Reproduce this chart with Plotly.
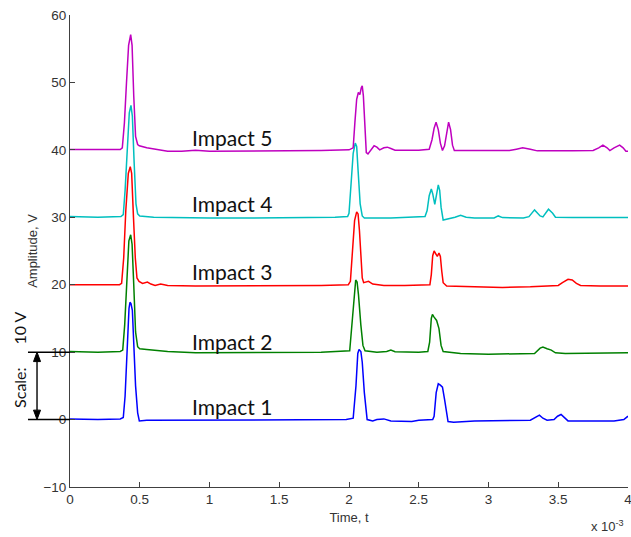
import numpy as np
import plotly.graph_objects as go

# Impact response traces: time in ms, amplitude in V (each impact offset by 10 V)
t1 = [0, 0.2, 0.36, 0.382, 0.395, 0.41, 0.423, 0.43, 0.437, 0.447, 0.458, 0.47, 0.485, 0.497,
      0.55, 0.8, 1.0, 1.3, 1.6, 1.8, 1.98, 2.03, 2.05, 2.063, 2.072, 2.085, 2.095, 2.11, 2.13,
      2.17, 2.2, 2.25, 2.3, 2.45, 2.5, 2.6, 2.61, 2.625, 2.64, 2.655, 2.67, 2.685, 2.70, 2.71,
      2.75, 2.9, 3.3, 3.34, 3.365, 3.39, 3.42, 3.47, 3.495, 3.52, 3.545, 3.57, 3.7, 3.9, 3.97, 4.0]
a1 = [0.1, 0.0, 0.1, 0.3, 3.5, 11, 16.5, 17.4, 17.2, 16.2, 11, 5, 1, -0.2,
      -0.1, -0.1, 0.0, -0.1, 0.0, -0.1, 0.0, 0.2, 5, 9.8, 10.4, 10.1, 8.5, 4, 0.0,
      -0.2, 0.0, 0.1, -0.2, -0.3, -0.1, 0.0, 0.5, 4, 5.3, 5.1, 4.8, 3, 0.5, -0.3,
      -0.4, -0.2, -0.1, 0.3, 0.65, 0.2, -0.1, 0.0, 0.5, 0.75, 0.2, -0.2, -0.2, -0.2, 0.0, 0.5]

t2 = [0, 0.2, 0.36, 0.378, 0.392, 0.408, 0.422, 0.435, 0.445, 0.457, 0.47, 0.485, 0.5, 0.55,
      0.6, 0.7, 0.9, 1.2, 1.5, 1.8, 2.005, 2.02, 2.035, 2.048, 2.058, 2.068, 2.085, 2.1, 2.115,
      2.2, 2.27, 2.3, 2.33, 2.4, 2.5, 2.565, 2.578, 2.59, 2.598, 2.61, 2.628, 2.645, 2.66, 2.675,
      2.8, 3.0, 3.2, 3.33, 3.37, 3.39, 3.42, 3.45, 3.48, 3.55, 3.7, 3.85, 4.0]
a2 = [10.1, 10.0, 10.1, 10.3, 14, 21, 26.5, 27.4, 26, 20, 13, 10.8, 10.5, 10.4,
      10.3, 10.1, 9.9, 9.9, 9.9, 10.0, 10.2, 14, 18.5, 20.7, 20.4, 18.5, 14, 11, 10.2,
      10.0, 10.1, 10.3, 10.05, 10.0, 10.0, 10.1, 11.5, 15, 15.6, 15.2, 14.7, 13.5, 11, 10.1,
      9.8, 9.7, 9.7, 9.8, 10.6, 10.75, 10.5, 10.3, 9.9, 9.8, 9.85, 9.9, 9.9]

t3 = [0, 0.2, 0.355, 0.37, 0.385, 0.40, 0.418, 0.432, 0.442, 0.455, 0.468, 0.48, 0.495, 0.52,
      0.555, 0.58, 0.61, 0.65, 0.7, 0.9, 1.2, 1.5, 1.8, 1.995, 2.01, 2.025, 2.04, 2.055, 2.065,
      2.075, 2.085, 2.095, 2.105, 2.14, 2.17, 2.25, 2.4, 2.58, 2.59, 2.6, 2.61, 2.62, 2.633,
      2.645, 2.655, 2.665, 2.675, 2.7, 2.9, 3.1, 3.3, 3.45, 3.5, 3.53, 3.57, 3.6, 3.63, 3.66,
      3.8, 4.0]
a3 = [20.0, 20.0, 20.0, 20.2, 24, 31, 36.5, 37.5, 36.5, 30, 24, 21, 20.5, 20.2,
      20.4, 20.1, 19.9, 20.1, 19.9, 19.8, 19.8, 19.8, 19.9, 20.0, 20.5, 25, 29.5, 30.8, 30.5,
      28, 24, 21, 20.3, 20.5, 20.1, 19.9, 19.9, 20.0, 21.5, 24.3, 25.0, 24.6, 24.2,
      24.7, 24.2, 22, 20.3, 19.8, 19.7, 19.6, 19.7, 19.8, 19.9, 20.3, 20.8, 20.7, 20.2, 19.9,
      19.8, 19.8]

t4 = [0, 0.2, 0.365, 0.382, 0.395, 0.41, 0.425, 0.437, 0.447, 0.46, 0.473, 0.485, 0.5, 0.6,
      0.8, 1.0, 1.3, 1.6, 1.9, 1.99, 2.0, 2.015, 2.03, 2.045, 2.055, 2.065, 2.08, 2.095, 2.11,
      2.3, 2.5, 2.545, 2.56, 2.575, 2.59, 2.6, 2.615, 2.63, 2.64, 2.65, 2.66, 2.675, 2.7, 2.76,
      2.8, 2.84, 2.9, 3.04, 3.07, 3.1, 3.25, 3.29, 3.33, 3.37, 3.39, 3.43, 3.46, 3.48, 3.6,
      3.8, 4.0]
a4 = [30.1, 30.0, 30.1, 30.4, 34, 40, 45.5, 46.6, 45, 38, 32, 30.5, 30.2, 30.0,
      29.9, 29.9, 29.9, 29.9, 30.0, 30.1, 30.6, 35, 39.5, 41, 40.5, 37, 32, 30.2, 29.9,
      29.9, 30.0, 30.1, 31, 33.2, 34.2, 33.5, 31.9, 33.8, 34.8, 34, 31.5, 29.6, 29.7, 30.0,
      30.3, 30.0, 29.9, 29.9, 30.2, 29.95, 29.9, 30.1, 31.1, 30.2, 30.05, 31.2, 30.6, 30.0, 29.95,
      29.95, 29.95]

t5 = [0, 0.2, 0.36, 0.375, 0.39, 0.405, 0.42, 0.435, 0.445, 0.457, 0.47, 0.485, 0.497, 0.55,
      0.65, 0.7, 0.8, 0.9, 1.0, 1.3, 1.6, 1.8, 2.0, 2.03, 2.042, 2.055, 2.067, 2.078, 2.088,
      2.095, 2.103, 2.113, 2.124, 2.136, 2.155, 2.18, 2.2, 2.22, 2.25, 2.275, 2.3, 2.33, 2.5,
      2.575, 2.595, 2.61, 2.624, 2.64, 2.655, 2.67, 2.685, 2.7, 2.714, 2.728, 2.742, 2.755, 3.0,
      3.15, 3.2, 3.245, 3.3, 3.35, 3.6, 3.75, 3.79, 3.82, 3.85, 3.87, 3.9, 3.94, 3.965, 3.985, 4.0]
a5 = [40.05, 40.05, 40.05, 40.3, 44, 50, 55.5, 57.1, 55.5, 48, 42, 40.8, 40.6, 40.3,
      40.0, 39.8, 39.8, 39.95, 39.8, 39.8, 39.85, 39.9, 40.0, 40.3, 44, 47.5, 48.5, 48.2, 49.2,
      49.5, 48, 43, 39.6, 39.4, 40.0, 40.6, 40.4, 40.0, 40.3, 40.4, 40.2, 39.95, 39.95,
      40.1, 41.5, 43.2, 44.1, 43, 41, 39.9, 40.6, 42.8, 44.1, 43, 40.7, 39.9, 39.9,
      39.9, 40.1, 40.3, 40.1, 39.85, 39.85, 39.9, 40.3, 40.7, 40.3, 39.9, 40.3, 40.7, 40.3, 39.8, 39.8]

series = [
    ("Impact 1", t1, a1, "#0000ff"),
    ("Impact 2", t2, a2, "#008000"),
    ("Impact 3", t3, a3, "#ff0000"),
    ("Impact 4", t4, a4, "#00bfbf"),
    ("Impact 5", t5, a5, "#bf00bf"),
]

# Label positions (ms, V) for each impact trace
label_t = [1.16, 1.16, 1.16, 1.16, 1.16]
label_a = [1.9, 11.6, 21.9, 32.1, 41.8]

x_ticks_ms = [0, 0.5, 1, 1.5, 2, 2.5, 3, 3.5, 4]
x_tick_text = ["0", "0.5", "1", "1.5", "2", "2.5", "3", "3.5", "4"]
y_ticks = [-10, 0, 10, 20, 30, 40, 50, 60]

# Scale bar endpoints (V)
scale_top, scale_bottom = 10, 0

fig = go.Figure()
for name, t, a, color in series:
    fig.add_trace(go.Scatter(
        x=np.array(t) * 1e-3, y=a, mode="lines", name=name,
        line=dict(color=color, width=1.5), showlegend=False,
    ))

axis_font = dict(family="Liberation Sans, Arial, sans-serif", size=13.5, color="#333333")
title_font = dict(family="Liberation Sans, Arial, sans-serif", size=13, color="#333333")

fig.update_xaxes(
    range=[0, 4e-3], tickvals=np.array(x_ticks_ms) * 1e-3, ticktext=x_tick_text,
    ticks="inside", ticklen=5, tickwidth=1, tickcolor="#404040",
    showline=True, linecolor="#404040", linewidth=1, mirror=False,
    showgrid=False, zeroline=False, tickfont=axis_font, automargin=False,
    ticklabeloverflow="allow",
    title=dict(text="Time, t", font=title_font, standoff=6),
)
fig.update_yaxes(
    range=[-10, 60], tickvals=y_ticks,
    ticks="inside", ticklen=5, tickwidth=1, tickcolor="#404040",
    showline=True, linecolor="#404040", linewidth=1, mirror=False,
    showgrid=False, zeroline=False, tickfont=axis_font, automargin=False,
    title=dict(text="Amplitude, V", font=title_font, standoff=2),
)

label_font = dict(family="Lato, Calibri, sans-serif", size=21, color="#111111")
for (name, _, _, _), lt, la in zip(series, label_t, label_a):
    fig.add_annotation(x=lt * 1e-3, y=la, xref="x", yref="y", text=name,
                       showarrow=False, font=label_font, xanchor="center", yanchor="middle")

# Exponent marker for the time axis
fig.add_annotation(x=0.964, y=-0.083, xref="paper", yref="paper", text="x 10<sup>-3</sup>",
                   showarrow=False, font=title_font, xanchor="center", yanchor="middle")

# 10 V scale bar on the left of the axis: guide lines, shaft and two filled heads
bar_x = -0.0591          # paper x of the shaft
head_w = 0.0063          # half width of an arrow head (paper units)
head_h = 1.4             # arrow head length (V)
for yv in (scale_top, scale_bottom):
    fig.add_shape(type="line", xref="paper", yref="y", x0=-0.0753, x1=0, y0=yv, y1=yv,
                  line=dict(color="black", width=1.5))
fig.add_shape(type="line", xref="paper", yref="y", x0=bar_x, x1=bar_x,
              y0=scale_bottom + head_h, y1=scale_top - head_h, line=dict(color="black", width=1.4))
for tip, base in ((scale_top, scale_top - head_h), (scale_bottom, scale_bottom + head_h)):
    fig.add_shape(
        type="path", xref="paper", yref="y",
        path=f"M {bar_x} {tip} L {bar_x - head_w} {base} L {bar_x + head_w} {base} Z",
        fillcolor="black", line=dict(color="black", width=1),
    )

scale_font = dict(family="Lato, Calibri, sans-serif", size=16, color="#111111")
fig.add_annotation(x=-0.0896, y=13.5, xref="paper", yref="y", text="10 V", textangle=-90,
                   showarrow=False, font=scale_font, xanchor="center", yanchor="middle")
fig.add_annotation(x=-0.0896, y=4.7, xref="paper", yref="y", text="Scale:", textangle=-90,
                   showarrow=False, font=scale_font, xanchor="center", yanchor="middle")

fig.update_layout(
    width=631, height=537,
    margin=dict(l=70, r=3, t=15, b=50),
    paper_bgcolor="white", plot_bgcolor="white",
)

fig.write_html("out.html")
